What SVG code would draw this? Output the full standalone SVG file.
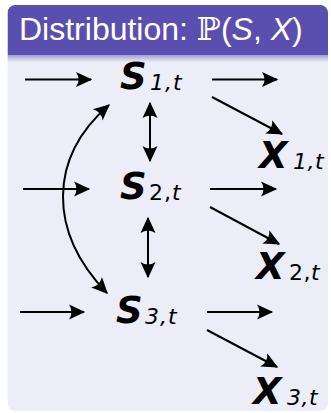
<svg xmlns="http://www.w3.org/2000/svg" width="331" height="413" viewBox="0 0 331 413">
<defs>
<marker id="ah" markerUnits="userSpaceOnUse" markerWidth="20" markerHeight="20" viewBox="-14 -8 16 16" refX="0" refY="0" orient="auto-start-reverse">
<path d="M1,0 L-12,-6 Q-8,0 -12,6 Z" fill="#000"/>
</marker>
<linearGradient id="sh" x1="0" y1="0" x2="0" y2="1">
<stop offset="0" stop-color="#a29dd2"/>
<stop offset="1" stop-color="#ededf7"/>
</linearGradient>
<clipPath id="blk"><rect x="7.5" y="5" width="320.5" height="406" rx="8"/></clipPath>
</defs>
<style>
.c line,.c path{stroke:#000;stroke-width:2;fill:none}
.s{font-family:"DejaVu Sans",sans-serif;font-weight:bold;font-style:italic;font-size:37px;fill:#000}
.sub{font-family:"DejaVu Sans",sans-serif;font-style:italic;font-size:22px;fill:#000}
.subu{font-family:"DejaVu Sans",sans-serif;font-size:22px;fill:#000}
.h{font-family:"Liberation Sans",Arial,sans-serif;font-size:32px;fill:#fff}
</style>
<g id="block">
<g clip-path="url(#blk)">
<rect x="7.5" y="5" width="320.5" height="406" fill="#ededf7"/>
<rect x="7.5" y="5" width="320.5" height="50" fill="#5a4fae"/>
<rect x="7.5" y="55" width="320.5" height="7" fill="url(#sh)"/>
</g>
<text class="h" x="19" y="40">Distribution: <tspan font-family="DejaVu Serif,serif">ℙ</tspan>(<tspan font-style="italic">S</tspan>, <tspan font-style="italic">X</tspan>)</text>
</g>
<g id="S1"><text class="s" x="120" y="89">S</text><text class="sub" x="150" y="90" letter-spacing="1">1,t</text></g>
<g id="S2"><text class="s" x="120" y="199">S</text><text class="subu" x="149" y="200" letter-spacing="1">2,<tspan font-style="italic">t</tspan></text></g>
<g id="S3"><text class="s" x="116" y="323">S</text><text class="sub" x="145" y="324" letter-spacing="1">3,t</text></g>
<g id="X1"><text class="s" x="259" y="168">X</text><text class="sub" x="293" y="169" letter-spacing="0.5">1,t</text></g>
<g id="X2"><text class="s" x="256" y="279">X</text><text class="subu" x="289" y="280" letter-spacing="0.5">2,<tspan font-style="italic">t</tspan></text></g>
<g id="X3"><text class="s" x="253" y="404">X</text><text class="sub" x="287" y="405" letter-spacing="0.5">3,t</text></g>
<g id="connectors" class="c">
<line x1="25" y1="79.5" x2="91" y2="79.5" marker-end="url(#ah)"/>
<line x1="212" y1="79.5" x2="277" y2="79.5" marker-end="url(#ah)"/>
<line x1="212" y1="97" x2="282" y2="134" marker-end="url(#ah)"/>
<line x1="23" y1="189" x2="89" y2="189" marker-end="url(#ah)"/>
<line x1="210" y1="189" x2="276" y2="189" marker-end="url(#ah)"/>
<line x1="210" y1="207" x2="279" y2="244" marker-end="url(#ah)"/>
<line x1="20" y1="312" x2="84" y2="312" marker-end="url(#ah)"/>
<line x1="207" y1="312" x2="272" y2="312" marker-end="url(#ah)"/>
<line x1="207" y1="330" x2="277" y2="367" marker-end="url(#ah)"/>
<line x1="150" y1="103" x2="150" y2="161" marker-start="url(#ah)" marker-end="url(#ah)"/>
<line x1="148" y1="218" x2="148" y2="277" marker-start="url(#ah)" marker-end="url(#ah)"/>
<path d="M107,293 C48,232 48,158 109,105" marker-start="url(#ah)" marker-end="url(#ah)"/>
</g>
</svg>
